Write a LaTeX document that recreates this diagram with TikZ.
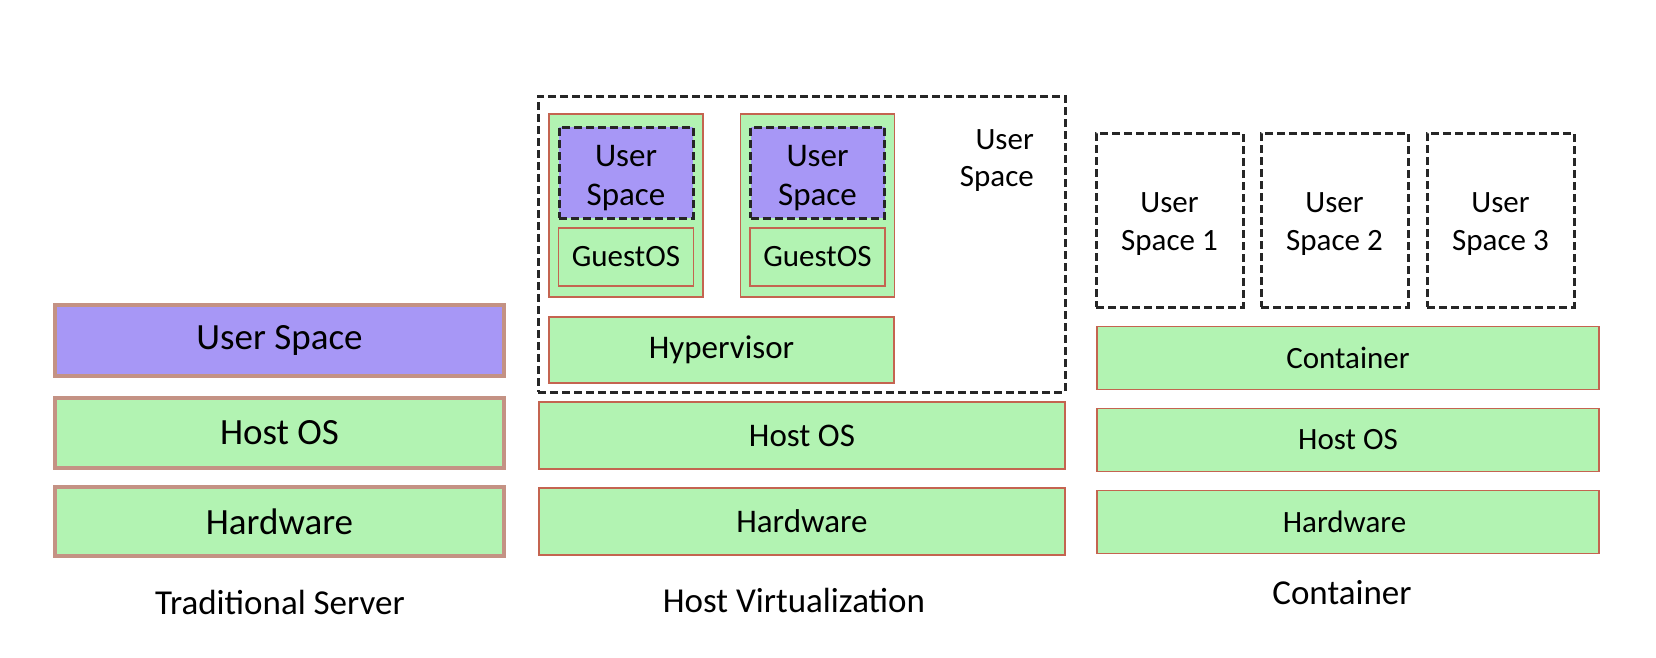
\documentclass[tikz,border=0pt]{standalone}
\usepackage{fontspec}
\setmainfont{Carlito}

\definecolor{layergreen}{RGB}{178,243,178}
\definecolor{userpurple}{RGB}{167,151,246}
\definecolor{tradedge}{RGB}{196,146,132}
\definecolor{layeredge}{RGB}{196,100,80}

\tikzset{
    layer/.style={draw=layeredge, line width=1.5pt, fill=layergreen, inner sep=0pt, align=center},
    tradlayer/.style={layer, draw=tradedge, line width=3.5pt, minimum width=449pt, minimum height=70pt, font=\fontsize{37}{42}\selectfont},
    virtlayer/.style={layer, font=\fontsize{33}{39}\selectfont},
    contlayer/.style={layer, minimum width=502pt, minimum height=63pt, font=\fontsize{31}{38}\selectfont},
    userbox/.style={draw=black!85, line width=3pt, dash pattern=on 8pt off 4pt, inner sep=0pt},
    usertext/.style={inner sep=0pt, align=center},
    caption/.style={font=\fontsize{35}{40}\selectfont}
}

\newcommand{\containerlayers}{
        358/Container, 440/Host OS, 522/Hardware
    }

\begin{document}
\begin{tikzpicture}[x=1pt, y=-1pt]
        \useasboundingbox (0,0) rectangle (1656,657);
        % Traditional Server
        \node[tradlayer, fill=userpurple, minimum height=71pt] (tradspace) at (279.5,340.5) {User Space};
        \node[tradlayer] (tradhost) at (279.5,433) {Host OS};
        \node[tradlayer, minimum height=69pt] (tradhw) at (279.5,521.5) {Hardware};
        \node[caption] (tradlabel) at (280,602) {Traditional Server};

        % Host Virtualization
        \node[userbox, minimum width=527pt, minimum height=296pt] (virtspace) at (801.5,244) {};
        \node[usertext, font=\fontsize{31}{37}\selectfont, align=right, anchor=east] (virtspacetext) at (1034,161) {User\\Space};
        \foreach [count=\i] \x in {626, 817.5}{
            \node[layer, minimum width=154pt, minimum height=183pt] (vm\i) at (\x,205.5) {};
            \node[virtlayer, minimum width=135pt, minimum height=58pt, font=\fontsize{31}{37}\selectfont] (guest\i) at (\x,257) {GuestOS};
            \node[userbox, fill=userpurple, minimum width=134pt, minimum height=91pt] (vmspace\i) at (\x,172.5) {};
            \node[usertext, font=\fontsize{33}{39}\selectfont] (vmspacetext\i) at (\x,178) {User\\Space};
        }
        \node[virtlayer, minimum width=345pt, minimum height=66pt] (hypervisor) at (721.5,350) {Hypervisor};
        \node[virtlayer, minimum width=526pt, minimum height=67pt] (virthost) at (802,435.5) {Host OS};
        \node[virtlayer, minimum width=526pt, minimum height=67pt] (virthw) at (802,521.5) {Hardware};
        \node[caption] (virtlabel) at (794,600) {Host Virtualization};

        % Container
        \foreach [count=\i] \x in {1169.5, 1334.5, 1500.5}{
            \node[userbox, minimum width=147pt, minimum height=174pt] (contspace\i) at (\x,220) {};
            \node[usertext, font=\fontsize{31}{38}\selectfont] (contspacetext\i) at (\x,224) {User\\Space \i};
        }
        \foreach [count=\i] \y/\t in \containerlayers{
            \node[contlayer] (contlayer\i) at (1348,\y) {\t};
        }
        \node[caption] (contlabel) at (1342,593) {Container};
    \end{tikzpicture}
\end{document}
